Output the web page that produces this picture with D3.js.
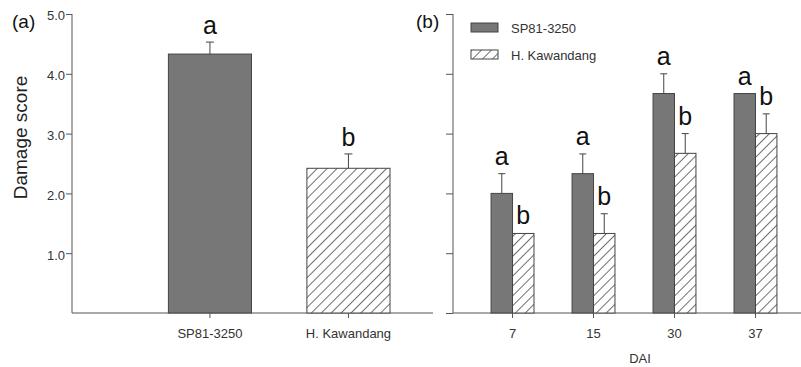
<!DOCTYPE html>
<html>
<head>
<meta charset="utf-8">
<script src="https://cdn.jsdelivr.net/npm/d3@7"></script>
<style>
  body { margin: 0; background: #fff; }
  svg { font-family: "Liberation Sans", Arial, sans-serif; }
</style>
</head>
<body>
<script>
// panel (a): mean damage score per cultivar
const cultivars = ["SP81-3250", "H. Kawandang"]
const meanScore = [4.33, 2.42]
const meanErr = [0.2, 0.24]
const meanLetters = ["a", "b"]

// panel (b): damage score by days after infestation
const days = ["7", "15", "30", "37"]
const spScore = [2.0, 2.33, 3.67, 3.67]
const spErr = [0.33, 0.33, 0.33, 0]
const hkScore = [1.33, 1.33, 2.67, 3.0]
const hkErr = [0, 0.33, 0.33, 0.33]
const spLetters = ["a", "a", "a", "a"]
const hkLetters = ["b", "b", "b", "b"]

const yTicks = [1, 2, 3, 4, 5]

const W = 801, H = 367
const axisColor = "#555"
const darkFill = "#777"
const barStroke = "#444"

const svg = d3.select("body").append("svg")
  .attr("width", W).attr("height", H)

const defs = svg.append("defs")
const pat = defs.append("pattern")
  .attr("id", "hatch")
  .attr("patternUnits", "userSpaceOnUse")
  .attr("width", 7).attr("height", 7)
  .attr("patternTransform", "rotate(45)")
pat.append("rect").attr("width", 7).attr("height", 7).attr("fill", "#fff")
pat.append("line")
  .attr("x1", 0).attr("y1", 0).attr("x2", 0).attr("y2", 7)
  .attr("stroke", "#222").attr("stroke-width", 1.3)

const y = d3.scaleLinear().domain([0, 5]).range([313, 14])

// ---------- panel (a) ----------
const xa = d3.scaleBand().domain(cultivars).range([113, 445.4]).padding(0.4)
const ga = svg.append("g")

const yAxisA = ga.append("g")
  .attr("transform", "translate(72,0)")
  .call(d3.axisLeft(y).tickValues(yTicks).tickFormat(d3.format(".1f")).tickSize(6).tickSizeOuter(0))
yAxisA.select(".domain").remove()
yAxisA.append("line").attr("y1", y(5)).attr("y2", y(0)).attr("stroke", axisColor)
yAxisA.selectAll(".tick line").attr("stroke", axisColor)
yAxisA.selectAll(".tick text")
  .attr("font-size", 13).attr("fill", "#333").attr("font-family", "Liberation Sans, Arial, sans-serif")
  .attr("dy", "0.45em").attr("x", -7)

ga.append("line")
  .attr("x1", 72).attr("x2", 433).attr("y1", y(0)).attr("y2", y(0))
  .attr("stroke", axisColor)

ga.selectAll("rect.bar")
  .data(cultivars)
  .join("rect")
  .attr("class", "bar")
  .attr("x", d => xa(d))
  .attr("width", xa.bandwidth())
  .attr("y", (d, i) => y(meanScore[i]))
  .attr("height", (d, i) => y(0) - y(meanScore[i]))
  .attr("fill", (d, i) => i === 0 ? darkFill : "url(#hatch)")
  .attr("stroke", barStroke).attr("stroke-width", 1)

cultivars.forEach((d, i) => {
  const cx = xa(d) + xa.bandwidth() / 2
  const top = y(meanScore[i] + meanErr[i])
  ga.append("line").attr("x1", cx).attr("x2", cx)
    .attr("y1", y(meanScore[i])).attr("y2", top).attr("stroke", barStroke)
  ga.append("line").attr("x1", cx - 4).attr("x2", cx + 4)
    .attr("y1", top).attr("y2", top).attr("stroke", barStroke)
  ga.append("text").attr("x", cx).attr("y", top - 8)
    .attr("text-anchor", "middle").attr("font-size", 25).attr("fill", "#111")
    .text(meanLetters[i])
  ga.append("line").attr("x1", cx).attr("x2", cx)
    .attr("y1", y(0)).attr("y2", y(0) + 5).attr("stroke", axisColor)
  ga.append("text").attr("x", cx).attr("y", 338)
    .attr("text-anchor", "middle").attr("font-size", 13).attr("fill", "#333")
    .text(d)
})

ga.append("text").attr("x", 12).attr("y", 28)
  .attr("font-size", 19).attr("fill", "#111").text("(a)")
ga.append("text")
  .attr("transform", `translate(27,${(y(5) + y(0)) / 2 - 26}) rotate(-90)`)
  .attr("text-anchor", "middle").attr("font-size", 19).attr("fill", "#222")
  .text("Damage score")

// ---------- panel (b) ----------
const xb = d3.scaleBand().domain(days).range([453, 815]).paddingInner(0.47).paddingOuter(0.47)
const series = ["SP81-3250", "H. Kawandang"]
const xs = d3.scaleBand().domain(series).range([0, xb.bandwidth()])
const gb = svg.append("g")

const yAxisB = gb.append("g")
  .attr("transform", "translate(453,0)")
  .call(d3.axisLeft(y).tickValues([0, ...yTicks]).tickFormat("").tickSize(7).tickSizeOuter(0))
yAxisB.select(".domain").remove()
yAxisB.append("line").attr("y1", y(5)).attr("y2", y(0)).attr("stroke", axisColor)
yAxisB.selectAll(".tick line").attr("stroke", axisColor)

gb.append("line")
  .attr("x1", 453).attr("x2", 801).attr("y1", y(0)).attr("y2", y(0))
  .attr("stroke", axisColor)

const groups = days.map((d, i) => ({
  day: d,
  bars: [
    { s: series[0], v: spScore[i], e: spErr[i], l: spLetters[i] },
    { s: series[1], v: hkScore[i], e: hkErr[i], l: hkLetters[i] }
  ]
}))

const grp = gb.selectAll("g.grp").data(groups).join("g")
  .attr("class", "grp")
  .attr("transform", d => `translate(${xb(d.day)},0)`)

grp.selectAll("rect").data(d => d.bars).join("rect")
  .attr("x", d => xs(d.s))
  .attr("width", xs.bandwidth())
  .attr("y", d => y(d.v))
  .attr("height", d => y(0) - y(d.v))
  .attr("fill", d => d.s === series[0] ? darkFill : "url(#hatch)")
  .attr("stroke", barStroke).attr("stroke-width", 1)

grp.each(function (g) {
  const sel = d3.select(this)
  g.bars.forEach(b => {
    const cx = xs(b.s) + xs.bandwidth() / 2
    const top = y(b.v + b.e)
    if (b.e > 0) {
      sel.append("line").attr("x1", cx).attr("x2", cx)
        .attr("y1", y(b.v)).attr("y2", top).attr("stroke", barStroke)
      sel.append("line").attr("x1", cx - 3.5).attr("x2", cx + 3.5)
        .attr("y1", top).attr("y2", top).attr("stroke", barStroke)
    }
    sel.append("text").attr("x", cx).attr("y", top - 9)
      .attr("text-anchor", "middle").attr("font-size", 25).attr("fill", "#111")
      .text(b.l)
  })
  const mid = xb.bandwidth() / 2
  sel.append("line").attr("x1", mid).attr("x2", mid)
    .attr("y1", y(0)).attr("y2", y(0) + 5).attr("stroke", axisColor)
  sel.append("text").attr("x", mid).attr("y", 338)
    .attr("text-anchor", "middle").attr("font-size", 13).attr("fill", "#333")
    .text(g.day)
})

gb.append("text").attr("x", 640).attr("y", 363)
  .attr("text-anchor", "middle").attr("font-size", 13).attr("fill", "#333")
  .text("DAI")

gb.append("text").attr("x", 416).attr("y", 28)
  .attr("font-size", 19).attr("fill", "#111").text("(b)")

const legend = gb.append("g").attr("transform", "translate(471,23)")
const li = legend.selectAll("g").data(series).join("g")
  .attr("transform", (d, i) => `translate(0,${i * 27})`)
li.append("rect").attr("width", 27).attr("height", 9)
  .attr("fill", (d, i) => i === 0 ? darkFill : "url(#hatch)")
  .attr("stroke", barStroke)
li.append("text").attr("x", 40).attr("y", 10)
  .attr("font-size", 13).attr("fill", "#333").text(d => d)
</script>
</body>
</html>
